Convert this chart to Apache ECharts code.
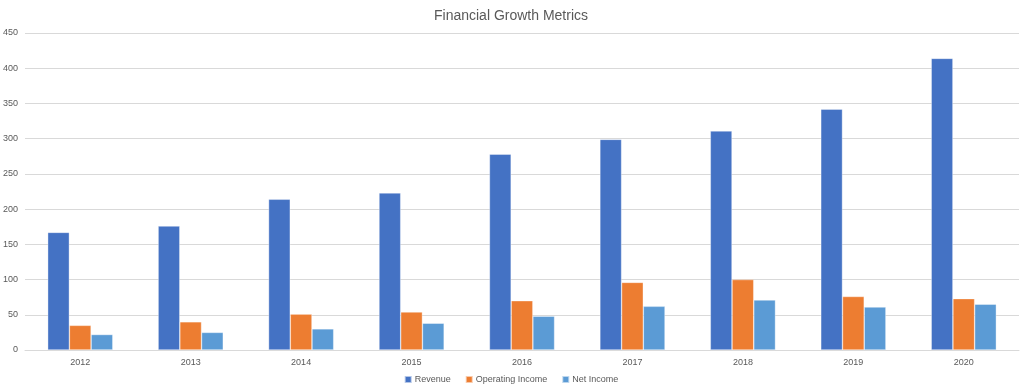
<!DOCTYPE html>
<html>
<head>
<meta charset="utf-8">
<script src="https://cdn.jsdelivr.net/npm/echarts@6/dist/echarts.min.js"></script>
<style>html,body{margin:0;padding:0;background:#fff;}#c{width:1022px;height:392px;}</style>
</head>
<body>
<div id="c"></div>
<script>
const categories = ['2012','2013','2014','2015','2016','2017','2018','2019','2020'];
const revenue = [167, 176, 214, 223, 278, 299, 311, 342, 414];
const operatingIncome = [35, 40, 51, 54, 70, 96, 100, 76, 73];
const netIncome = [22, 25, 30, 38, 48, 62, 71, 61, 65];
const yTicks = { min: 0, max: 450, interval: 50 };

const font = 'Liberation Sans, Arial, sans-serif';
const chart = echarts.init(document.getElementById('c'));
const barStyle = (color) => ({ color: color, borderColor: 'rgba(255,255,255,0.6)', borderWidth: 0.6 });
chart.setOption({
  animation: false,
  title: {
    text: 'Financial Growth Metrics',
    left: 'center', top: 4,
    textStyle: { fontFamily: font, fontSize: 14, fontWeight: 'normal', color: '#595959' }
  },
  legend: {
    bottom: 3, left: 'center',
    itemWidth: 7, itemHeight: 7, itemGap: 14,
    icon: 'rect',
    textStyle: { fontFamily: font, fontSize: 9, color: '#595959', padding: [0, 0, 0, -2] },
    data: ['Revenue', 'Operating Income', 'Net Income']
  },
  grid: { left: 23, right: 3, top: 33, bottom: 42, containLabel: false },
  xAxis: {
    type: 'category', data: categories,
    axisLine: { lineStyle: { color: '#d9d9d9' } },
    axisTick: { show: false },
    axisLabel: { fontFamily: font, fontSize: 9, color: '#595959', margin: 8 }
  },
  yAxis: {
    type: 'value', min: yTicks.min, max: yTicks.max, interval: yTicks.interval,
    axisLine: { show: false }, axisTick: { show: false },
    axisLabel: { fontFamily: font, fontSize: 9, color: '#595959', margin: 7 },
    splitLine: { lineStyle: { color: '#d9d9d9', width: 1 } }
  },
  series: [
    { name: 'Revenue', type: 'bar', data: revenue, barGap: '0%', barCategoryGap: '41%', itemStyle: barStyle('#4472C4') },
    { name: 'Operating Income', type: 'bar', data: operatingIncome, itemStyle: barStyle('#ED7D31') },
    { name: 'Net Income', type: 'bar', data: netIncome, itemStyle: barStyle('#5B9BD5') }
  ]
});
</script>
</body>
</html>
